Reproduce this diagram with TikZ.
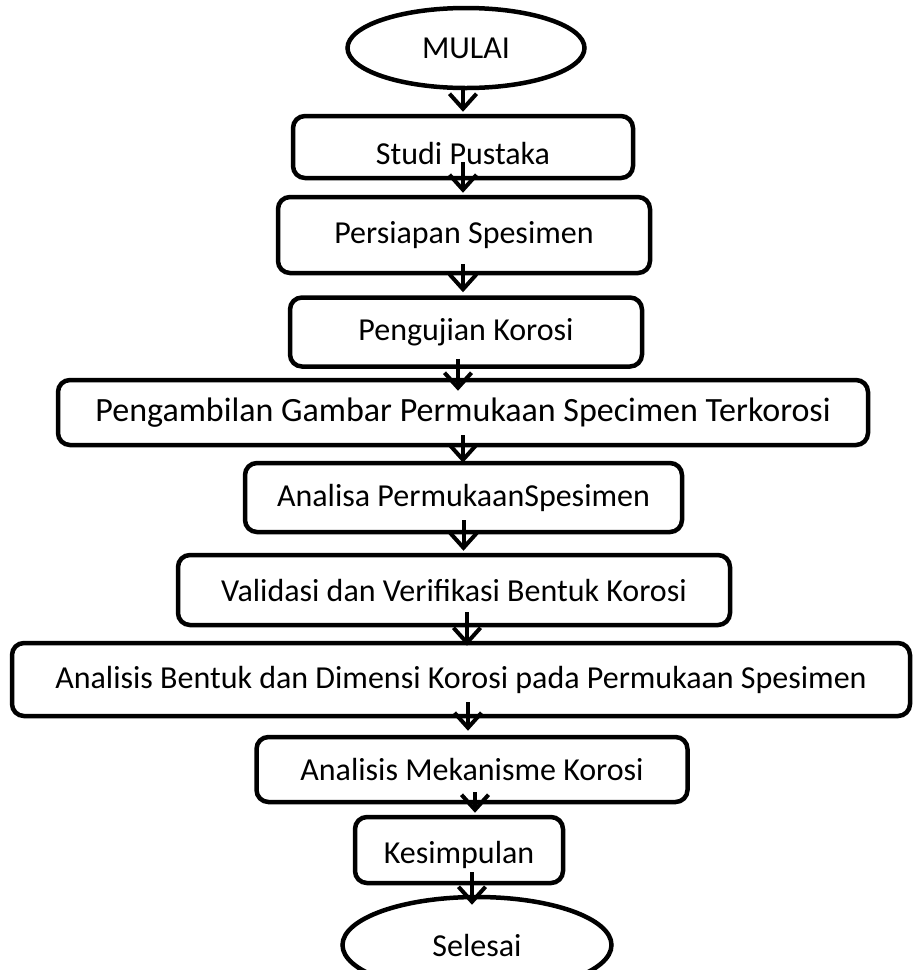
\documentclass[tikz,border=0pt]{standalone}
\usepackage{fontspec}
\setmainfont{Carlito}
\usepackage{tikz}
\usetikzlibrary{shapes.geometric,arrows.meta,positioning}

\begin{document}
\begin{tikzpicture}[x=1pt,y=-1pt,
  proc/.style={rectangle, draw, line width=4.5pt, rounded corners=12pt,
               minimum width=#1, inner sep=0pt, fill=white,
               font=\fontsize{32}{38}\selectfont},
  term/.style={ellipse, draw, line width=4.5pt, minimum width=#1,
               inner sep=0pt, fill=white, font=\fontsize{32}{38}\selectfont},
  flow/.style={line width=4pt, -{Straight Barb[length=15pt,width=27pt]}}
]
  \useasboundingbox (0,0) rectangle (913,970);

  % start and end
  \node[term=237pt, minimum height=80pt] (mulai) at (466,48) {MULAI};
  \node[term=269pt, minimum height=96pt] (selesai) at (477,945) {Selesai};

  % process steps
  \node[proc=340pt, minimum height=62pt] (studi) at (463,147)
    {\raisebox{-7pt}[\height][\depth]{Studi Pustaka}};
  \node[proc=372pt, minimum height=76pt] (persiapan) at (464,235) {Persiapan Spesimen};
  \node[proc=352pt, minimum height=69pt] (pengujian) at (466,332) {Pengujian Korosi};
  \node[proc=810pt, minimum height=65pt, font=\fontsize{34}{40}\selectfont]
    (pengambilan) at (463,412.5) {Pengambilan Gambar Permukaan Specimen Terkorosi};
  \node[proc=437pt, minimum height=69pt] (analisa) at (463.5,497.5) {Analisa PermukaanSpesimen};
  \node[proc=552pt, minimum height=70pt] (validasi) at (454,590)
    {Validasi dan Verifikasi Bentuk Korosi};
  \node[proc=898pt, minimum height=73pt] (bentuk) at (461,679.5)
    {Analisis Bentuk dan Dimensi Korosi pada Permukaan Spesimen};
  \node[proc=431pt, minimum height=65pt] (mekanisme) at (472,769.5) {Analisis Mekanisme Korosi};
  \node[proc=208pt, minimum height=66pt] (kesimpulan) at (459,850)
    {\raisebox{-5pt}[\height][\depth]{Kesimpulan}};

  % arrows (x offset / start inside box / end overlap)
  \foreach \a/\b/\dx/\up/\dn in {mulai/studi/-3/2/-2, studi/persiapan/0/18/-2,
      persiapan/pengujian/-1/11/-3, pengujian/pengambilan/-8/10/13,
      pengambilan/analisa/0/12/2, analisa/validasi/0/14/-2,
      validasi/bentuk/13/15/5, bentuk/mekanisme/7/16/-4,
      mekanisme/kesimpulan/3/12/-2, kesimpulan/selesai/13/13/10}
    \draw[flow] ([shift={(\dx,-\up)}]\a.south) -- ([shift={(\dx,\dn)}]\a.south |- \b.north);
\end{tikzpicture}
\end{document}
